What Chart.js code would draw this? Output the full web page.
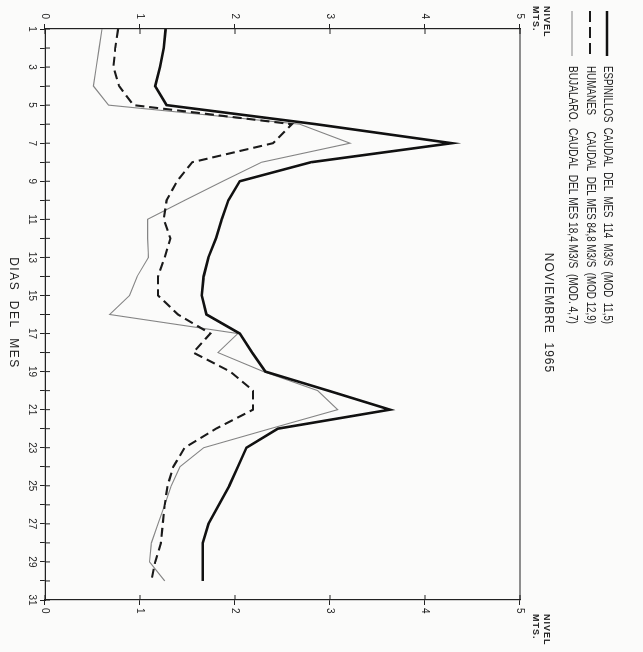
<!DOCTYPE html>
<html>
<head>
<meta charset="utf-8">
<script src="https://cdn.jsdelivr.net/npm/chart.js@4.4.1/dist/chart.umd.min.js"></script>
<style>
html, body { margin: 0; padding: 0; background: #fbfbfa; overflow: hidden; }
#wrap { position: absolute; left: 0; top: 0; width: 652px; height: 643px;
        transform-origin: 0 0; transform: translate(643px, 0) rotate(90deg); }
</style>
</head>
<body>
<div id="wrap"><canvas id="grafico" width="652" height="643"></canvas></div>
<script>
// dias del mes (eje) y niveles en metros, noviembre 1965
var dias = [1,2,3,4,5,6,7,8,9,10,11,12,13,14,15,16,17,18,19,20,21,22,23,24,25,26,27,28,29,30,31];
var espinillos = [1.27,1.25,1.21,1.16,1.28,2.85,4.28,2.80,2.05,1.93,1.86,1.80,1.72,1.67,1.65,
                  1.70,2.05,2.18,2.32,2.98,3.63,2.45,2.12,2.03,1.94,1.83,1.72,1.66,1.66,1.66];
var humanes    = [0.77,0.74,0.72,0.78,0.93,2.60,2.40,1.55,1.39,1.28,1.25,1.32,1.26,1.19,1.19,
                  1.40,1.74,1.56,1.95,2.19,2.19,1.80,1.47,1.35,1.29,1.26,1.24,1.22,1.16,1.12];
var bujalaro   = [0.60,0.57,0.54,0.51,0.67,2.68,3.21,2.28,1.87,1.47,1.08,1.08,1.09,0.97,0.89,
                  0.68,2.03,1.82,2.30,2.87,3.08,2.37,1.67,1.42,1.33,1.26,1.19,1.12,1.10,1.26];
var niveles = [0,1,2,3,4,5];
var leyenda = ['ESPINILLOS  CAUDAL  DEL  MES  114  M3/S  (MOD  11,5)',
               'HUMANES      CAUDAL  DEL MES 84,8 M3/S  (MOD 12,9)',
               'BUJALARO.  CAUDAL  DEL MES 18,4 M3/S  (MOD. 4,7)'];
var titulo = 'NOVIEMBRE  1965';
var ejeX = 'DIAS  DEL  MES';
var ejeY = ['NIVEL', 'MTS.'];

var tinta = '#222';
var letra = "'Liberation Sans', 'DejaVu Sans', sans-serif";

// texto comprimido a un ancho dado (letra de plotter, angosta)
function textoAjustado(ctx, txt, x, y, ancho) {
	var w = ctx.measureText(txt).width;
	ctx.save();
	ctx.translate(x, y);
	ctx.scale(ancho / w, 1);
	ctx.fillText(txt, 0, 0);
	ctx.restore();
}

var extras = {
	id: 'extras',
	afterDraw: function(chart) {
		var ctx = chart.ctx, a = chart.chartArea;
		var x = chart.scales.x, y = chart.scales.y;
		ctx.save();
		ctx.strokeStyle = tinta;
		ctx.lineWidth = 1.2;
		ctx.beginPath();
		ctx.moveTo(a.left, a.top);
		ctx.lineTo(a.right, a.top);
		ctx.stroke();

		// marcas hacia adentro
		ctx.lineWidth = 1;
		ctx.beginPath();
		for (var i = 0; i < dias.length; i++) {
			var px = x.getPixelForValue(i);
			ctx.moveTo(px, a.bottom);
			ctx.lineTo(px, a.bottom - 5);
		}
		niveles.forEach(function(n) {
			var py = y.getPixelForValue(n);
			ctx.moveTo(a.left, py); ctx.lineTo(a.left + 5, py);
			ctx.moveTo(a.right, py); ctx.lineTo(a.right - 5, py);
		});
		ctx.stroke();

		// leyenda
		ctx.fillStyle = tinta;
		ctx.textBaseline = 'middle';
		ctx.textAlign = 'left';
		ctx.font = '12px ' + letra;
		var filas = [36, 53, 71];
		chart.data.datasets.forEach(function(ds, k) {
			ctx.save();
			ctx.strokeStyle = ds.borderColor;
			ctx.lineWidth = ds.borderWidth;
			ctx.setLineDash(ds.borderDash ? [11, 5] : []);
			ctx.beginPath();
			ctx.moveTo(11, filas[k]);
			ctx.lineTo(56, filas[k]);
			ctx.stroke();
			ctx.restore();
			textoAjustado(ctx, leyenda[k], 66, filas[k], 258);
		});

		// titulo y rotulos
		ctx.textAlign = 'center';
		ctx.font = '12px ' + letra;
		ctx.letterSpacing = '1px';
		ctx.fillText(titulo, 313, 95);
		ctx.letterSpacing = '1.5px';
		ctx.fillText(ejeX, 313, 630);

		ctx.font = 'bold 9px ' + letra;
		ctx.letterSpacing = '1px';
		ctx.textAlign = 'left';
		ctx.fillText(ejeY[0], 6, 97);
		ctx.fillText(ejeY[1], 6, 108);
		ctx.fillText(ejeY[0], 614, 97);
		ctx.fillText(ejeY[1], 614, 108);
		ctx.restore();
	}
};

var ctx = document.getElementById('grafico');

var grafico = new Chart(ctx, {
	type: 'line',
	data: {
		labels: dias,
		datasets: [
			{ label: 'ESPINILLOS', data: espinillos, borderColor: '#111', borderWidth: 2.6, pointRadius: 0, tension: 0 },
			{ label: 'HUMANES', data: humanes, borderColor: '#1a1a1a', borderWidth: 2.1, borderDash: [9, 5], pointRadius: 0, tension: 0 },
			{ label: 'BUJALARO', data: bujalaro, borderColor: '#858585', borderWidth: 1.1, pointRadius: 0, tension: 0 }
		]
	},
	options: {
		responsive: false,
		animation: false,
		devicePixelRatio: 1,
		layout: { padding: { top: 123 } },
		plugins: { legend: { display: false }, tooltip: { enabled: false } },
		scales: {
			x: {
				offset: false,
				afterFit: function(s) { s.height = 45; },
				grid: { drawOnChartArea: false, color: tinta, tickLength: 5 },
				border: { color: tinta, width: 1.2 },
				ticks: {
					autoSkip: false, maxRotation: 0, padding: 2, color: tinta,
					font: { family: letra, size: 10 },
					callback: function(v, i) { return dias[i] % 2 === 1 ? dias[i] : ''; }
				}
			},
			y: {
				min: 0, max: 5,
				afterFit: function(s) { s.width = 29; },
				grid: { drawOnChartArea: false, color: tinta, tickLength: 5 },
				border: { color: tinta, width: 1.2 },
				ticks: { stepSize: 1, padding: 5, color: tinta, font: { family: letra, size: 10 } }
			},
			y2: {
				position: 'right', min: 0, max: 5,
				afterFit: function(s) { s.width = 52; },
				grid: { drawOnChartArea: false, color: tinta, tickLength: 5 },
				border: { color: tinta, width: 1.2 },
				ticks: { stepSize: 1, padding: 3, color: tinta, font: { family: letra, size: 10 } }
			}
		}
	},
	plugins: [extras]
});
</script>
</body>
</html>
